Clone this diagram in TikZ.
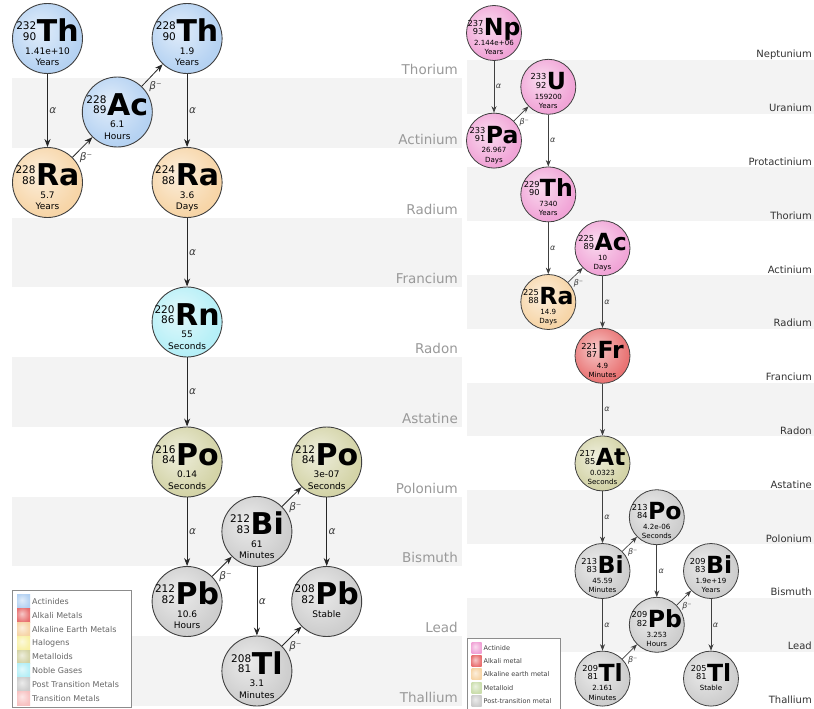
\documentclass[tikz,border=0pt]{standalone}
\usepackage{fontspec}
\setmainfont{DejaVu Sans}
\usetikzlibrary{arrows.meta}

\definecolor{actblue}{HTML}{9EC4EE}
\definecolor{actpink}{HTML}{EC88CA}
\definecolor{alkred}{HTML}{E24848}
\definecolor{earthpeach}{HTML}{F4C88C}
\definecolor{halyellow}{HTML}{F6EC8C}
\definecolor{metolive}{HTML}{C6C68C}
\definecolor{metgreen}{HTML}{BCD496}
\definecolor{noblecyan}{HTML}{9EEAF4}
\definecolor{postgray}{HTML}{BEBEBE}
\definecolor{transpink}{HTML}{F5B0B0}
\definecolor{bandgray}{HTML}{F3F3F3}

% sphere-like shadings, one per element group
\newcommand{\defsphere}[1]{%
  \pgfdeclareradialshading{sph#1}{\pgfpoint{-7bp}{7bp}}{%
    color(0bp)=(#1!30!white); color(26bp)=(#1!75!white); color(56bp)=(#1)}}
\defsphere{actblue}
\defsphere{actpink}
\defsphere{alkred}
\defsphere{earthpeach}
\defsphere{halyellow}
\defsphere{metolive}
\defsphere{metgreen}
\defsphere{noblecyan}
\defsphere{postgray}
\defsphere{transpink}

\newlength\nucu
\setlength\nucu{1pt}

% mass number over atomic number
\newcommand{\azstack}[2]{\vbox{\offinterlineskip
  \halign{\hfil##\cr #1\cr\noalign{\kern2.5\nucu}#2\cr}}}

% isotope text: mass, atomic number, symbol, half-life, unit
\newcommand{\nuc}[5]{%
  \vbox{\offinterlineskip
    \hbox to 0pt{\hss\vrule height 30.5\nucu depth 0pt width 0pt
      \raisebox{1.5\nucu}[0pt][0pt]{\fontsize{10.5\nucu}{10.5\nucu}\selectfont\azstack{#1}{#2}}%
      \kern0.6\nucu
      \raisebox{0pt}[0pt][0pt]{\fontsize{30\nucu}{30\nucu}\selectfont\bfseries #3}\hss}
    \hbox to 0pt{\hss\vrule height 12.5\nucu depth 0pt width 0pt
      \raisebox{0pt}[0pt][0pt]{\fontsize{9\nucu}{9\nucu}\selectfont #4}\hss}
    \hbox to 0pt{\hss\vrule height 11.5\nucu depth 0pt width 0pt
      \raisebox{0pt}[0pt][0pt]{\fontsize{9\nucu}{9\nucu}\selectfont #5}\hss}}}

\begin{document}
\begin{tikzpicture}[x=1pt, y=-1pt,
  ball/.style={circle, draw=black!75, line width=0.9pt, minimum size=70pt,
    inner sep=0pt, shade, shading=sph#1},
  smallball/.style={ball=#1, minimum size=55pt, line width=0.8pt},
  decay/.style={-{Stealth[length=8pt, width=6pt]}, line width=0.8pt, draw=black!85},
  smalldecay/.style={decay, -{Stealth[length=6.5pt, width=5pt]}, line width=0.7pt, draw=black!75},
  alab/.style={right, inner sep=1.5pt, text=black!75, font=\fontsize{10.5}{10.5}\selectfont\itshape},
  blab/.style={anchor=north west, inner sep=1pt, text=black!75, font=\fontsize{10.5}{10.5}\selectfont},
  smalla/.style={alab, font=\fontsize{8}{8}\selectfont\itshape},
  smallb/.style={blab, font=\fontsize{8}{8}\selectfont},
  lrow/.style={anchor=base east, inner sep=0pt, text=black!40, font=\fontsize{13.5}{13.5}\selectfont},
  rrow/.style={anchor=base east, inner sep=0pt, text=black!80, font=\fontsize{10}{10}\selectfont},
  legtxt/.style={anchor=west, inner sep=0pt, text=black!60, font=\fontsize{8}{8}\selectfont},
  smallleg/.style={anchor=west, inner sep=0pt, text=black!75, font=\fontsize{6.5}{6.5}\selectfont}]

  \useasboundingbox (0,0) rectangle (814,709);

  % Row bands
  \foreach \k in {0,...,4}
    \fill[bandgray] (12,78+139.5*\k) rectangle (462,147.75+139.5*\k);
  \foreach \k in {0,...,5}
    \fill[bandgray] (467,59.8+107.6*\k) rectangle (814,113.6+107.6*\k);

  % Row labels
  \foreach \name [count=\k from 0] in {Thorium,Actinium,Radium,Francium,Radon,
      Astatine,Polonium,Bismuth,Lead,Thallium}
    \node[lrow] (lrow\k) at (458,74.5+69.75*\k) {\name};
  \foreach \name [count=\k from 0] in {Neptunium,Uranium,Protactinium,Thorium,
      Actinium,Radium,Francium,Radon,Astatine,Polonium,Bismuth,Lead,Thallium}
    \node[rrow] (rrow\k) at (812,57.8+53.8*\k) {\name};

  % Thorium series
  \node[ball=actblue] (th232) at (47.5,38.5) {\nuc{232}{90}{Th}{1.41e+10}{Years}};
  \node[ball=earthpeach] (ra228) at (47.5,182.5) {\nuc{228}{88}{Ra}{5.7}{Years}};
  \node[ball=actblue] (ac228) at (117.3,112) {\nuc{228}{89}{Ac}{6.1}{Hours}};
  \node[ball=actblue] (th228) at (187.1,38.5) {\nuc{228}{90}{Th}{1.9}{Years}};
  \node[ball=earthpeach] (ra224) at (187.1,182.5) {\nuc{224}{88}{Ra}{3.6}{Days}};
  \node[ball=noblecyan] (rn220) at (187.1,322) {\nuc{220}{86}{Rn}{55}{Seconds}};
  \node[ball=metolive] (po216) at (187.1,462) {\nuc{216}{84}{Po}{0.14}{Seconds}};
  \node[ball=postgray] (pb212) at (187.1,601.5) {\nuc{212}{82}{Pb}{10.6}{Hours}};
  \node[ball=postgray] (bi212) at (256.9,531.5) {\nuc{212}{83}{Bi}{61}{Minutes}};
  \node[ball=postgray] (tl208) at (256.9,671) {\nuc{208}{81}{Tl}{3.1}{Minutes}};
  \node[ball=metolive] (po212) at (326.7,462) {\nuc{212}{84}{Po}{3e-07}{Seconds}};
  \node[ball=postgray] (pb208) at (326.7,601.5) {\nuc{208}{82}{Pb}{Stable}{}};

  \draw[decay] (th232) -- node[alab] {α} (ra228);
  \draw[decay] (ra228) -- node[blab, pos=0.3] {{\itshape β}⁻} (ac228);
  \draw[decay] (ac228) -- node[blab, pos=0.3] {{\itshape β}⁻} (th228);
  \draw[decay] (th228) -- node[alab] {α} (ra224);
  \draw[decay] (ra224) -- node[alab] {α} (rn220);
  \draw[decay] (rn220) -- node[alab] {α} (po216);
  \draw[decay] (po216) -- node[alab] {α} (pb212);
  \draw[decay] (pb212) -- node[blab, pos=0.3] {{\itshape β}⁻} (bi212);
  \draw[decay] (bi212) -- node[blab, pos=0.3] {{\itshape β}⁻} (po212);
  \draw[decay] (bi212) -- node[alab] {α} (tl208);
  \draw[decay] (po212) -- node[alab] {α} (pb208);
  \draw[decay] (tl208) -- node[blab, pos=0.3] {{\itshape β}⁻} (pb208);

  % Neptunium series
  \begin{scope}
    \setlength\nucu{0.786pt}
    \node[smallball=actpink] (np237) at (494,33) {\nuc{237}{93}{Np}{2.144e+06}{Years}};
    \node[smallball=actpink] (u233) at (548.3,86.8) {\nuc{233}{92}{U}{159200}{Years}};
    \node[smallball=actpink] (pa233) at (494,140.6) {\nuc{233}{91}{Pa}{26.967}{Days}};
    \node[smallball=actpink] (th229) at (548.3,194.4) {\nuc{229}{90}{Th}{7340}{Years}};
    \node[smallball=actpink] (ac225) at (602.5,248.2) {\nuc{225}{89}{Ac}{10}{Days}};
    \node[smallball=earthpeach] (ra225) at (548.3,302) {\nuc{225}{88}{Ra}{14.9}{Days}};
    \node[smallball=alkred] (fr221) at (602.5,355.8) {\nuc{221}{87}{Fr}{4.9}{Minutes}};
    \node[smallball=metolive] (at217) at (602.5,463.4) {\nuc{217}{85}{At}{0.0323}{Seconds}};
    \node[smallball=postgray] (po213) at (656.8,517.2) {\nuc{213}{84}{Po}{4.2e-06}{Seconds}};
    \node[smallball=postgray] (bi213) at (602.5,571) {\nuc{213}{83}{Bi}{45.59}{Minutes}};
    \node[smallball=postgray] (bi209) at (711,571) {\nuc{209}{83}{Bi}{1.9e+19}{Years}};
    \node[smallball=postgray] (pb209) at (656.8,624.8) {\nuc{209}{82}{Pb}{3.253}{Hours}};
    \node[smallball=postgray] (tl209) at (602.5,678.6) {\nuc{209}{81}{Tl}{2.161}{Minutes}};
    \node[smallball=postgray] (tl205) at (711,678.6) {\nuc{205}{81}{Tl}{Stable}{}};
  \end{scope}

  \draw[smalldecay] (np237) -- node[smalla] {α} (pa233);
  \draw[smalldecay] (pa233) -- node[smallb, pos=0.3] {{\itshape β}⁻} (u233);
  \draw[smalldecay] (u233) -- node[smalla] {α} (th229);
  \draw[smalldecay] (th229) -- node[smalla] {α} (ra225);
  \draw[smalldecay] (ra225) -- node[smallb, pos=0.3] {{\itshape β}⁻} (ac225);
  \draw[smalldecay] (ac225) -- node[smalla] {α} (fr221);
  \draw[smalldecay] (fr221) -- node[smalla] {α} (at217);
  \draw[smalldecay] (at217) -- node[smalla] {α} (bi213);
  \draw[smalldecay] (bi213) -- node[smallb, pos=0.3] {{\itshape β}⁻} (po213);
  \draw[smalldecay] (bi213) -- node[smalla] {α} (tl209);
  \draw[smalldecay] (po213) -- node[smalla] {α} (pb209);
  \draw[smalldecay] (tl209) -- node[smallb, pos=0.3] {{\itshape β}⁻} (pb209);
  \draw[smalldecay] (pb209) -- node[smallb, pos=0.3] {{\itshape β}⁻} (bi209);
  \draw[smalldecay] (bi209) -- node[smalla] {α} (tl205);

  % Legends
  \draw[black!45, fill=white, line width=0.8pt] (12.5,590.5) rectangle (131.5,707.5);
  \foreach \col/\txt [count=\i from 0] in {actblue/Actinides, alkred/Alkali Metals,
      earthpeach/Alkaline Earth Metals, halyellow/Halogens, metolive/Metalloids,
      noblecyan/Noble Gases, postgray/Post Transition Metals, transpink/Transition Metals} {
    \shade[shading=sph\col] (17,594.8+13.8*\i) rectangle (30,608.6+13.8*\i);
    \node[legtxt] (legl\i) at (32,601.7+13.8*\i) {\txt};
  }
  \draw[black!45, fill=white, line width=0.8pt] (467.5,638.5) rectangle (560.5,712);
  \foreach \col/\txt [count=\i from 0] in {actpink/Actinide, alkred/Alkali metal,
      earthpeach/Alkaline earth metal, metgreen/Metalloid, postgray/Post-transition metal} {
    \shade[shading=sph\col] (471.5,642.5+13.2*\i) rectangle (481.5,653.5+13.2*\i);
    \node[smallleg] (legr\i) at (483.5,648+13.2*\i) {\txt};
  }
\end{tikzpicture}
\end{document}
